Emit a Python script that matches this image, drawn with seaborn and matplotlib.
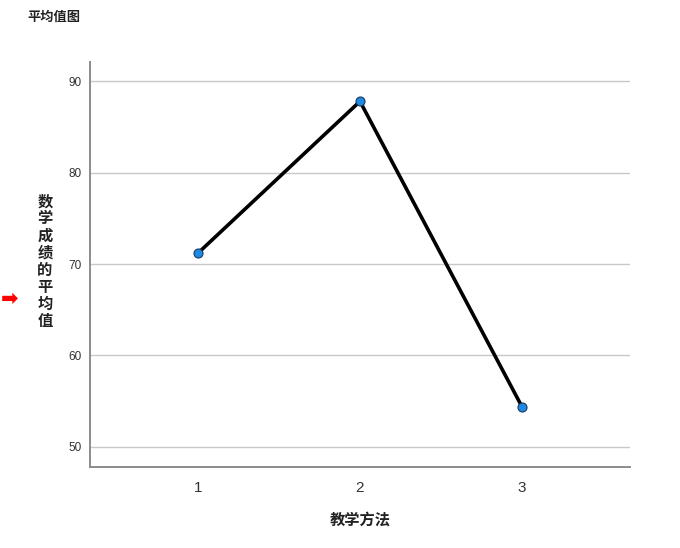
import matplotlib
matplotlib.use('Agg')
import matplotlib.pyplot as plt
import seaborn as sns
import pandas as pd

# means per teaching method
methods = [1, 2, 3]
mean_scores = [71.2, 87.8, 54.4]
y_ticks = [50, 60, 70, 80, 90]

df = pd.DataFrame({'method': methods, 'score': mean_scores})

sns.set_style('white')
plt.rcParams['font.family'] = ['Noto Sans CJK SC', 'DejaVu Sans']

fig = plt.figure(figsize=(6.8, 5.48), dpi=100)
ax = fig.add_axes([0.1324, 0.1478, 0.794, 0.739])

sns.lineplot(data=df, x='method', y='score', ax=ax, color='black', linewidth=2.6,
             marker='o', markersize=6.5, markerfacecolor='#1e88e5',
             markeredgecolor='#1a3a5c', markeredgewidth=0.8, zorder=3)

ax.set_xlim(0.333, 3.667)
ax.set_ylim(47.8, 92.1)
ax.set_xticks(methods)
ax.set_xticklabels([str(m) for m in methods], fontsize=11, color='#333333',
                   family=['Liberation Sans'])
ax.set_yticks(y_ticks)
ax.set_yticklabels([str(t) for t in y_ticks], fontsize=8.5, color='#333333',
                   family=['Liberation Sans'])
ax.tick_params(axis='x', length=0, pad=10)
ax.tick_params(axis='y', length=0, pad=6)

for t in y_ticks:
    ax.axhline(t, color='#c8c8c8', linewidth=1.0, zorder=1)

for side in ['top', 'right']:
    ax.spines[side].set_visible(False)
for side in ['left', 'bottom']:
    ax.spines[side].set_color('#8c8c8c')
    ax.spines[side].set_linewidth(1.4)

ax.set_xlabel('教学方法', fontsize=11, fontweight='bold', color='#222222', labelpad=12)
ax.set_ylabel('')

# stacked vertical y label like the SPSS output
fig.text(45 / 680, 1 - 261 / 548, '\n'.join('数学成绩的平均值'), fontsize=11,
         fontweight='bold', color='#222222', ha='center', va='center', linespacing=1.08)

fig.text(27 / 680, 1 - 17 / 548, '平均值图', fontsize=9.5, fontweight='bold',
         color='#222222', ha='left', va='center')

fig.text(10 / 680, 1 - 299 / 548, '➡', fontsize=15, fontweight='bold', color='red',
         ha='center', va='center', family=['DejaVu Sans'])

fig.savefig('out.png', dpi=100)
